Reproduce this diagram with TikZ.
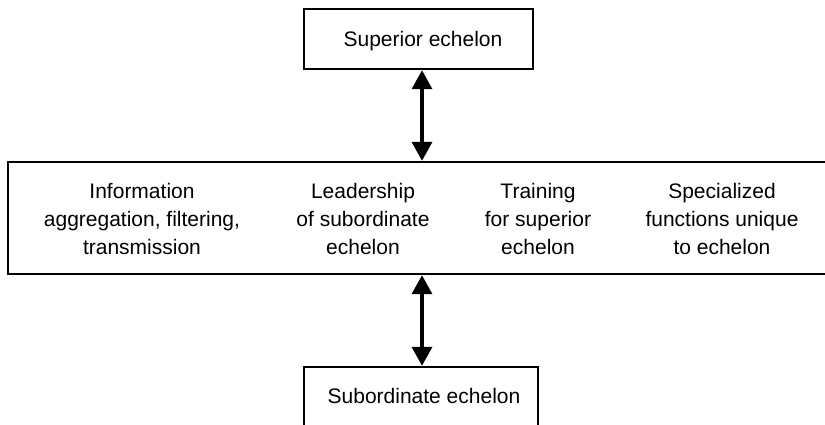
\documentclass[tikz,border=0pt]{standalone}
\usepackage{fontspec}
\setmainfont{Liberation Sans}
\usetikzlibrary{arrows.meta}
\begin{document}
\begin{tikzpicture}[x=1pt,y=-1pt,
  box/.style={draw,line width=1.4pt,inner sep=0pt},
  label/.style={font=\fontsize{21}{27.5}\selectfont,align=center,inner sep=0pt,anchor=base},
  link/.style={line width=3.5pt,
    {Triangle[width=20pt,length=19pt]}-{Triangle[width=20pt,length=19pt]},
    shorten <=0.5pt,shorten >=0.5pt}]
  \useasboundingbox (0,0) rectangle (825,425);
  \clip (0,0) rectangle (825,425);
  % echelon boxes
  \node[box,minimum width=229pt,minimum height=60pt] (sup) at (418.5,39) {};
  \node[box,minimum width=840pt,minimum height=112pt] (mid) at (428,218) {};
  \node[box,minimum width=234pt,minimum height=70pt] (sub) at (421,402) {};
  % texts (multi-line labels are anchored on their last baseline)
  \node[label] (tsup) at (423,47) {Superior echelon};
  \node[label] (tsub) at (424,403) {Subordinate echelon};
  \node[label] (f1) at (142,254) {Information\\aggregation, filtering,\\transmission};
  \node[label] (f2) at (363,254) {Leadership\\of subordinate\\echelon};
  \node[label] (f3) at (538,254) {Training\\for superior\\echelon};
  \node[label] (f4) at (722,254) {Specialized\\functions unique\\to echelon};
  % two-way links between echelons
  \coordinate (axis) at (422,0);
  \draw[link] (axis |- sup.south) -- (axis |- mid.north);
  \draw[link] (axis |- mid.south) -- (axis |- sub.north);
\end{tikzpicture}
\end{document}
